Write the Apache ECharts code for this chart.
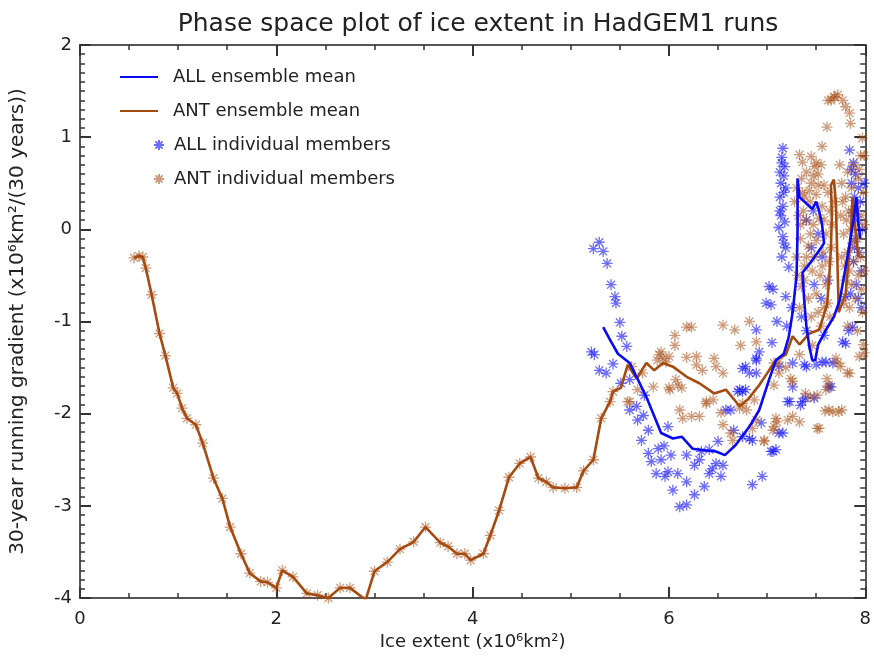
<!DOCTYPE html>
<html>
<head>
<meta charset="utf-8">
<title>Phase space plot</title>
<script src="https://cdn.jsdelivr.net/npm/echarts@6/dist/echarts.min.js"></script>
<style>
  html, body { margin: 0; padding: 0; background: #fff; }
  #main { width: 874px; height: 662px; }
</style>
</head>
<body>
<div id="main"></div>
<script>
// ensemble means, [ice extent, 30-yr gradient]
var allMean = [
  [5.33,-1.06],[5.40,-1.20],[5.48,-1.35],[5.60,-1.45],[5.67,-1.60],[5.77,-1.82],[5.84,-2.00],
  [5.92,-2.21],[6.04,-2.27],[6.13,-2.25],[6.24,-2.38],[6.38,-2.40],[6.48,-2.41],[6.57,-2.45],
  [6.68,-2.34],[6.82,-2.14],[6.92,-1.96],[7.02,-1.63],[7.09,-1.42],[7.17,-1.35],[7.22,-1.17],
  [7.26,-0.90],[7.30,-0.50],[7.31,-0.03],[7.31,0.55],[7.33,0.35],[7.40,0.28],[7.46,0.22],
  [7.50,0.30],[7.53,0.20],[7.56,0.05],[7.58,-0.15],[7.55,-0.20],[7.45,-0.35],[7.36,-0.47],
  [7.38,-0.80],[7.40,-1.05],[7.43,-1.27],[7.46,-1.42],[7.49,-1.42],[7.52,-1.25],[7.60,-1.09],
  [7.68,-0.95],[7.74,-0.77],[7.80,-0.41],[7.85,-0.10],[7.88,0.10],[7.91,0.35],[7.93,0.05],[7.95,-0.10]
];
var antMean = [
  [0.55,-0.31],[0.60,-0.29],[0.64,-0.30],[0.67,-0.42],[0.73,-0.71],[0.81,-1.13],[0.87,-1.37],
  [0.95,-1.72],[0.99,-1.78],[1.04,-1.94],[1.09,-2.05],[1.18,-2.12],[1.25,-2.32],[1.36,-2.70],
  [1.45,-2.92],[1.53,-3.23],[1.64,-3.52],[1.73,-3.73],[1.84,-3.82],[1.91,-3.83],[2.00,-3.89],
  [2.06,-3.70],[2.17,-3.77],[2.31,-3.95],[2.42,-3.97],[2.53,-4.00],[2.65,-3.89],[2.75,-3.89],
  [2.91,-4.02],[3.00,-3.71],[3.13,-3.61],[3.26,-3.47],[3.40,-3.39],[3.52,-3.23],[3.67,-3.40],
  [3.75,-3.44],[3.84,-3.52],[3.92,-3.52],[3.98,-3.59],[4.11,-3.52],[4.18,-3.32],[4.27,-3.05],
  [4.37,-2.69],[4.48,-2.54],[4.59,-2.47],[4.67,-2.70],[4.75,-2.74],[4.82,-2.80],[4.94,-2.81],
  [5.06,-2.80],[5.13,-2.62],[5.23,-2.50],[5.31,-2.05],[5.40,-1.87],[5.43,-1.76],[5.51,-1.72],
  [5.58,-1.47],[5.67,-1.62],[5.77,-1.45],[5.85,-1.53],[5.94,-1.45],[6.04,-1.49],[6.18,-1.60],
  [6.31,-1.67],[6.46,-1.78],[6.58,-1.74],[6.72,-1.92],[6.80,-1.85],[6.92,-1.69],[7.02,-1.53],
  [7.09,-1.42],[7.19,-1.36],[7.26,-1.16],[7.33,-1.25],[7.43,-1.13],[7.53,-1.09],[7.61,-0.82],
  [7.63,-0.57],[7.65,-0.20],[7.66,0.16],[7.65,0.48],[7.68,0.54],[7.70,0.30],[7.71,-0.10],
  [7.72,-0.50],[7.73,-0.90],[7.80,-0.70],[7.85,-0.10],[7.87,0.35],[7.90,0.00],[7.93,-0.30]
];

// individual members
var allMembers = [
  [5.29,-0.14],[5.23,-0.21],[5.33,-0.24],[5.37,-0.37],[5.41,-0.60],[5.45,-0.73],[5.46,-0.80],
  [5.50,-1.01],[5.52,-1.16],[5.57,-1.27],[5.21,-1.33],[5.24,-1.36],[5.43,-1.46],[5.29,-1.53],
  [5.36,-1.56],[5.51,-1.67],[5.60,-1.63],[5.75,-1.80],[5.67,-1.92],[6.75,-1.51],[6.82,-1.56],
  [6.72,-1.74],[6.89,-1.40],[6.89,-1.09],[5.60,-1.96],[5.68,-2.07],[5.79,-2.18],[5.72,-2.29],
  [5.89,-2.38],[5.99,-2.14],[5.79,-2.43],[5.82,-2.52],[5.92,-2.50],[5.87,-2.65],[5.99,-2.63],
  [6.09,-2.65],[5.96,-2.68],[6.18,-2.74],[6.04,-2.83],[6.26,-2.88],[6.36,-2.79],[6.11,-3.01],
  [6.18,-2.99],[6.18,-2.45],[6.26,-2.56],[6.31,-2.50],[6.41,-2.65],[6.48,-2.54],[6.55,-2.56],
  [6.53,-2.68],[6.41,-2.39],[6.50,-2.30],[6.33,-2.41],[6.58,-1.96],[6.63,-1.96],[6.85,-2.77],
  [6.95,-2.68],[6.75,-2.25],[6.85,-2.29],[6.94,-2.10],[6.70,-1.76],[6.78,-1.74],[7.04,-2.41],
  [7.09,-2.39],[7.06,-2.41],[6.89,-1.42],[7.23,-1.87],[7.26,-1.71],[7.36,-1.87],[7.40,-1.49],
  [7.56,-1.44],[7.63,-1.71],[7.16,-2.21],[7.67,-1.45],[7.26,-1.45],[6.78,-1.49],[6.89,-1.56],
  [6.75,-1.76],[7.12,-1.49],[7.21,-1.87],[7.34,-1.91],[7.39,-1.83],[7.48,-1.83],[7.38,-1.47],
  [7.50,-1.47],[7.60,-1.44],[7.65,-1.71],[7.77,-1.22],[7.80,-1.24],[7.05,-1.23],[6.92,-1.33],
  [7.12,-2.21],[6.82,-2.27],[5.95,-2.35],[6.02,-2.45],[6.44,-2.60],[5.74,-2.02],[6.66,-2.18],
  [7.16,0.88],[7.15,0.72],[7.18,0.68],[7.13,0.62],[7.17,0.58],[7.14,0.50],[7.19,0.45],
  [7.13,0.35],[7.16,0.25],[7.14,0.15],[7.18,0.08],[7.12,0.02],[7.16,-0.08],[7.19,-0.20],
  [7.15,-0.30],[7.22,-0.41],[7.02,-0.62],[7.06,-0.65],[6.99,-0.80],[7.04,-0.82],[7.19,-0.73],
  [7.25,-0.85],[7.10,-1.00],[7.20,-1.05],[7.15,0.78],[7.17,0.40],[7.13,0.20],[7.17,-0.15],
  [7.40,0.10],[7.47,0.20],[7.52,-0.05],[7.56,-0.30],[7.45,-0.20],[7.48,-0.60],[7.55,-0.75],
  [7.62,-0.55],[7.35,-0.95],[7.40,-1.10],[7.58,-1.15],
  [7.84,0.86],[7.88,0.72],[7.90,0.60],[7.86,0.50],[7.93,0.45],[7.89,0.35],[7.95,0.30],
  [7.87,0.18],[7.92,0.10],[7.97,0.00],[7.90,-0.10],[7.94,-0.25],[7.88,-0.35],[7.96,-0.45],
  [7.91,-0.60],[7.85,-0.70],[7.80,-0.73],[7.87,-1.06],[7.83,-1.10],[7.96,-0.85],[7.99,0.50],
  [7.86,0.65],[7.91,0.20],[7.89,-0.20],[7.93,-0.75]
];
var antMembersSpread = [
  [6.18,-1.06],[6.23,-1.06],[6.06,-1.15],[6.06,-1.26],[5.90,-1.36],[5.94,-1.40],[5.97,-1.44],
  [6.28,-1.38],[6.18,-1.39],[6.46,-1.40],[6.48,-1.49],[6.34,-1.53],[6.55,-1.56],[6.09,-1.69],
  [6.00,-1.72],[6.13,-1.72],[5.84,-1.71],[5.60,-1.87],[6.38,-1.89],[6.55,-1.04],[6.67,-1.09],
  [6.82,-1.00],[6.73,-1.26],[6.89,-1.22],[5.73,-1.56],[5.62,-1.49],[5.58,-1.87],[5.68,-1.74],
  [6.11,-1.96],[6.14,-2.05],[6.23,-2.03],[6.31,-2.03],[6.38,-1.87],[6.45,-1.85],[6.01,-1.74],
  [6.07,-1.63],[6.53,-1.99],[6.55,-2.12],[6.63,-2.21],[6.65,-2.29],[6.85,-2.16],[6.97,-2.29],
  [6.79,-1.96],[6.72,-1.94],[6.89,-2.07],[7.07,-1.69],[7.07,-2.14],[7.10,-2.09],[7.21,-2.07],
  [7.24,-1.62],[7.19,-1.50],[7.63,-1.69],[7.60,-1.74],[7.51,-1.80],[7.63,-1.96],[7.67,-1.98],
  [7.73,-1.98],[7.76,-1.96],[7.51,-2.16],[7.75,-1.49],[7.84,-1.56],[7.94,-1.38],[7.70,-1.40],
  [7.46,-1.26],[7.33,-1.36],[7.07,-1.45],[7.12,-1.44],[7.99,-1.34],[7.53,-2.16],[7.26,-2.03],
  [7.33,-2.09],[7.06,-2.18],[7.09,-2.05],[6.97,-2.30],[7.59,-1.97],[7.82,-1.56],[7.61,-1.62],
  [7.72,-1.45],[7.39,-1.78],[7.44,-1.82],[7.26,-1.65],[7.12,-1.56],[6.87,-1.85],[6.75,-1.89],
  [5.92,-1.33],[5.88,-1.42],[6.00,-1.38],[6.28,-1.47],
  [7.72,1.46],[7.65,1.40],[7.77,1.40],[7.80,1.33],[7.84,1.26],[7.69,1.43],[7.62,1.40],
  [7.68,1.44],[7.85,1.15],[7.61,1.11],[7.56,0.90],[7.33,0.81],[7.36,0.73],[7.45,0.79],
  [7.50,0.72],[7.97,0.99],[7.99,0.80],
  [7.30,0.45],[7.35,0.55],[7.40,0.62],[7.45,0.50],[7.52,0.60],[7.58,0.48],[7.62,0.40],
  [7.38,0.35],[7.44,0.30],[7.50,0.38],[7.56,0.25],[7.64,0.20],[7.32,0.15],[7.40,0.10],
  [7.47,0.05],[7.53,0.12],[7.60,-0.05],[7.66,0.05],[7.34,-0.10],[7.42,-0.18],[7.50,-0.12],
  [7.57,-0.25],[7.63,-0.35],[7.30,-0.30],[7.38,-0.40],[7.46,-0.45],[7.54,-0.50],[7.60,-0.60],
  [7.35,-0.62],[7.42,-0.75],[7.50,-0.70],[7.58,-0.85],[7.33,-0.85],[7.45,-0.95],[7.55,-1.05],
  [7.64,-0.95],[7.28,0.30],[7.37,0.20],[7.48,0.68],[7.55,0.70],[7.43,0.42],[7.65,-0.20],
  [7.68,0.30],[7.36,0.40],[7.52,0.48],[7.40,-0.30],[7.56,-0.40],[7.31,-0.50],[7.48,-0.30],
  [7.34,0.05],[7.44,-0.05],[7.58,0.10],[7.62,-0.80],[7.38,-0.55],[7.52,-0.90],[7.47,0.58],
  [7.76,0.50],[7.82,0.62],[7.88,0.70],[7.95,0.80],[7.80,0.35],[7.86,0.45],[7.93,0.55],
  [7.98,0.40],[7.75,0.15],[7.83,0.20],[7.90,0.25],[7.96,0.15],[7.78,-0.05],[7.85,0.00],
  [7.92,-0.10],[7.99,0.05],[7.76,-0.30],[7.82,-0.25],[7.88,-0.35],[7.95,-0.30],[7.80,-0.55],
  [7.86,-0.60],[7.93,-0.50],[7.99,-0.45],[7.78,-0.80],[7.84,-0.85],[7.90,-0.75],[7.97,-0.90],
  [7.82,-1.05],[7.92,-1.10],[7.98,-1.25],[7.74,0.70],[7.81,0.10],[7.87,-0.15],[7.79,-0.40],
  [7.77,0.30],[7.94,0.65],[7.84,-0.45],[7.96,-0.65]
];
// ANT members follow the mean track below ~5.4
var antMembers = antMean.filter(function (p) { return p[0] < 5.45; }).concat(antMembersSpread);

var xTicks = [0, 2, 4, 6, 8];
var yTicks = [-4, -3, -2, -1, 0, 1, 2];

var blue = '#0a0af5';
var brown = '#a64b10';
var star = 'path://M0,-1L0,1M-1,0L1,0M-0.72,-0.72L0.72,0.72M-0.72,0.72L0.72,-0.72';
var font = 'DejaVu Sans';

function axisStyle(minorSplit) {
  return {
    axisLine: { onZero: false, lineStyle: { color: '#555', width: 2 } },
    axisTick: { show: true, inside: true, length: 11, lineStyle: { color: '#333', width: 2 } },
    minorTick: { show: true, splitNumber: minorSplit, length: 5, lineStyle: { color: '#333', width: 1.5 } },
    splitLine: { show: false }
  };
}

var chart = echarts.init(document.getElementById('main'));
chart.setOption({
  backgroundColor: '#fff',
  animation: false,
  title: {
    text: 'Phase space plot of ice extent in HadGEM1 runs',
    left: 473, top: 7, textAlign: 'center',
    textStyle: { fontFamily: font, fontWeight: 'normal', fontSize: 25, color: '#222' }
  },
  legend: [{
    left: 120, top: 68, padding: 0, orient: 'vertical', icon: 'rect',
    itemWidth: 38, itemHeight: 2, itemGap: 16,
    data: ['ALL ensemble mean', 'ANT ensemble mean'],
    textStyle: { fontFamily: font, fontSize: 18, color: '#222', padding: [0, 0, 0, 10] }
  }, {
    left: 153, top: 136, padding: 0, orient: 'vertical', itemWidth: 10, itemHeight: 12, itemGap: 16,
    data: ['ALL individual members', 'ANT individual members'],
    textStyle: { fontFamily: font, fontSize: 18, color: '#222', padding: [0, 0, 0, 5] }
  }],
  grid: { left: 79, right: 8, top: 45, bottom: 64 },
  xAxis: [Object.assign({
    type: 'value', min: 0, max: 8, interval: 2, position: 'bottom',
    name: 'Ice extent (x10⁶km²)', nameLocation: 'middle', nameGap: 34,
    nameTextStyle: { fontFamily: font, fontSize: 18, color: '#222' },
    axisLabel: { fontFamily: font, fontSize: 18, color: '#222', margin: 12,
      formatter: function (v) { return xTicks.indexOf(v) >= 0 ? String(v) : ''; } }
  }, axisStyle(4)), Object.assign({
    type: 'value', min: 0, max: 8, interval: 2, position: 'top',
    axisLabel: { show: false }
  }, axisStyle(4))],
  yAxis: [Object.assign({
    type: 'value', min: -4, max: 2, interval: 1, position: 'left',
    name: '30-year running gradient (x10⁶km²/(30 years))', nameLocation: 'middle', nameGap: 52,
    nameTextStyle: { fontFamily: font, fontSize: 20, color: '#222' },
    axisLabel: { fontFamily: font, fontSize: 18, color: '#222', margin: 8,
      formatter: function (v) { return yTicks.indexOf(v) >= 0 ? String(v) : ''; } }
  }, axisStyle(10)), Object.assign({
    type: 'value', min: -4, max: 2, interval: 1, position: 'right',
    axisLabel: { show: false }
  }, axisStyle(10))],
  series: [{
    name: 'ALL individual members', type: 'scatter', data: allMembers,
    symbol: star, symbolSize: 11, z: 2,
    itemStyle: { color: blue, borderColor: blue, borderWidth: 1.3, opacity: 0.6 }
  }, {
    name: 'ANT individual members', type: 'scatter', data: antMembers,
    symbol: star, symbolSize: 11, z: 3,
    itemStyle: { color: brown, borderColor: brown, borderWidth: 1.3, opacity: 0.55 }
  }, {
    name: 'ANT ensemble mean', type: 'line', data: antMean, symbol: 'none', z: 4,
    clip: true, itemStyle: { color: brown },
    lineStyle: { color: brown, width: 2.6 }
  }, {
    name: 'ALL ensemble mean', type: 'line', data: allMean, symbol: 'none', z: 5,
    clip: true, itemStyle: { color: blue },
    lineStyle: { color: blue, width: 2.6 }
  }]
});
</script>
</body>
</html>
